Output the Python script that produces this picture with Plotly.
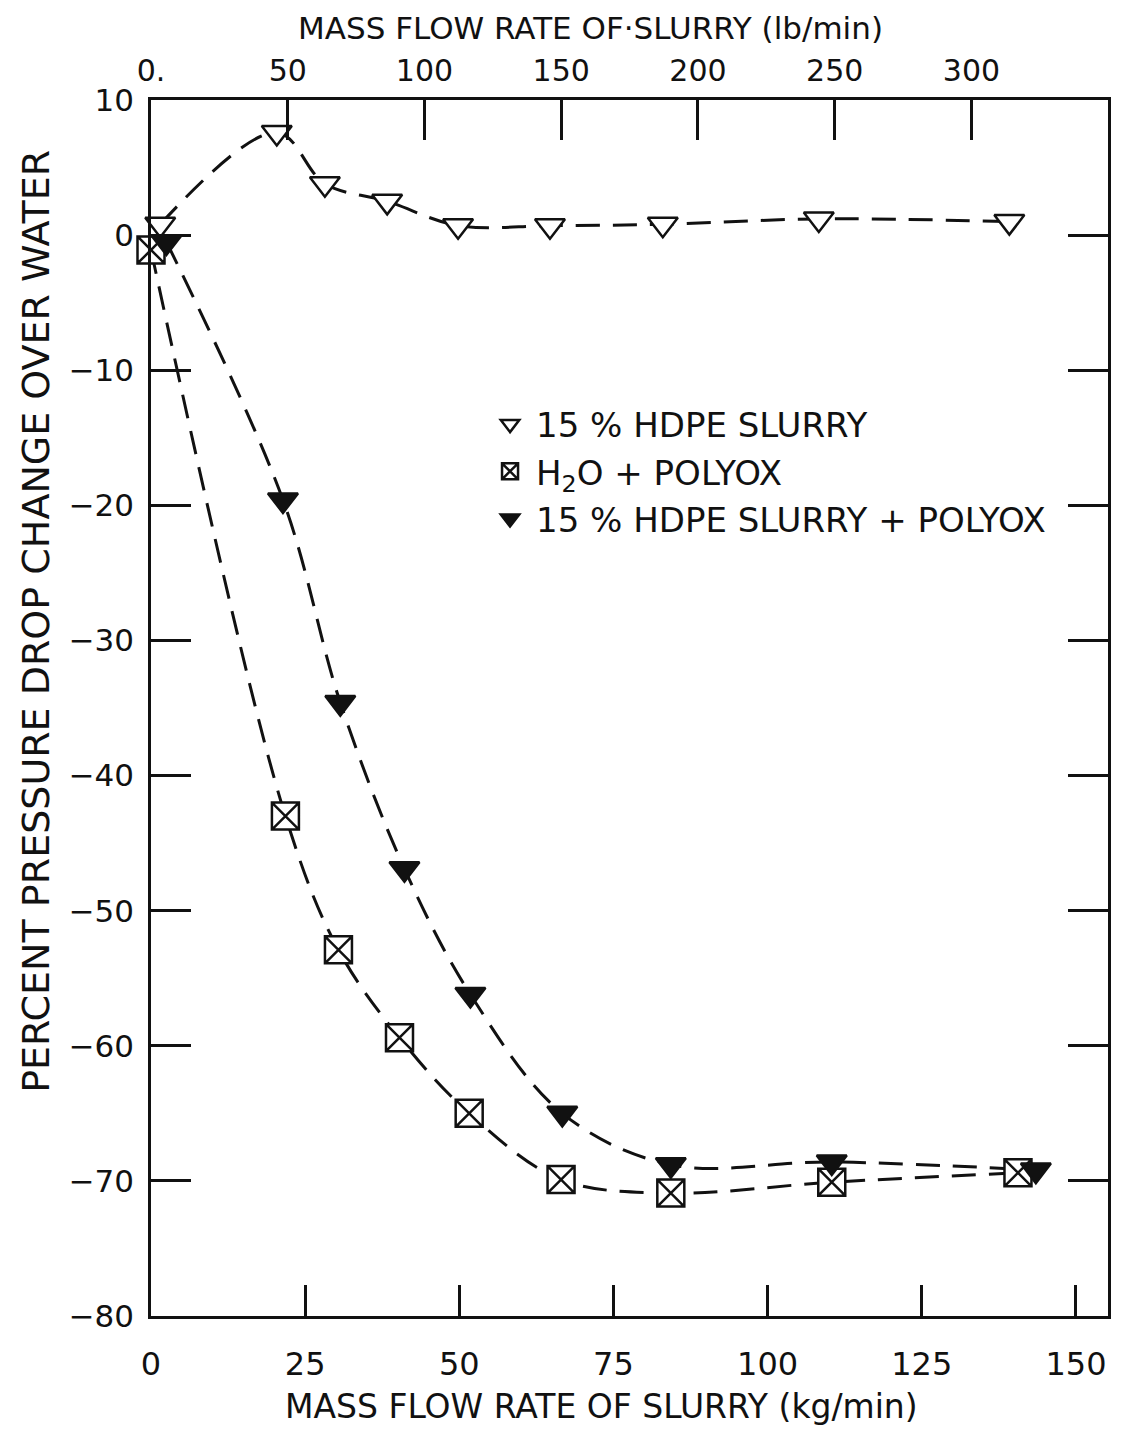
import plotly.graph_objects as go

# ---- data (mass flow rate in kg/min, percent pressure drop change over water) ----
hdpe_x = [1.5, 20.4, 28.2, 38.3, 49.8, 64.7, 83.0, 108.3, 139.2]
hdpe_y = [0.8, 7.6, 3.8, 2.5, 0.7, 0.7, 0.8, 1.2, 1.0]

h2o_polyox_x = [0.0, 21.8, 30.4, 40.3, 51.6, 66.5, 84.3, 110.4, 140.6]
h2o_polyox_y = [-1.1, -43.0, -52.9, -59.4, -65.0, -69.9, -70.9, -70.1, -69.4]

hdpe_polyox_x = [2.5, 21.4, 30.7, 41.1, 51.8, 66.7, 84.3, 110.4, 143.5]
hdpe_polyox_y = [-0.5, -19.6, -34.6, -46.9, -56.2, -65.0, -68.8, -68.6, -69.2]

names = ["15 % HDPE SLURRY", "H<sub>2</sub>O + POLYOX", "15 % HDPE SLURRY + POLYOX"]

kg_ticks = [0, 25, 50, 75, 100, 125, 150]
lb_ticks = [0, 50, 100, 150, 200, 250, 300]
lb_ticktext = ["0.", "50", "100", "150", "200", "250", "300"]
y_ticks = [10, 0, -10, -20, -30, -40, -50, -60, -70, -80]

KG_PER_LB_AXIS = 0.4435  # scale used by the drawn top axis
X_RANGE = [0, 155.2]
Y_RANGE = [-80, 10]

FONT = "DejaVu Sans"
INK = "#111111"

fig = go.Figure()

series = [
    (hdpe_x, hdpe_y, "triangle-down", 26, "white", names[0]),
    (h2o_polyox_x, h2o_polyox_y, "square-x", 27, "white", names[1]),
    (hdpe_polyox_x, hdpe_polyox_y, "triangle-down", 26, INK, names[2]),
]

for xs, ys, sym, sz, fill, nm in series:
    fig.add_trace(go.Scatter(
        x=xs, y=ys, mode="lines",
        line=dict(color=INK, width=3, dash="24px,13px", shape="spline", smoothing=1.0),
        showlegend=False, hoverinfo="skip", cliponaxis=False,
    ))

for xs, ys, sym, sz, fill, nm in series:
    fig.add_trace(go.Scatter(
        x=xs, y=ys, mode="markers", name=nm,
        marker=dict(symbol=sym, size=sz, color=fill, line=dict(color=INK, width=2.5)),
        cliponaxis=False,
    ))

# invisible trace so the top (lb/min) axis is drawn
fig.add_trace(go.Scatter(x=[lb_ticks[0]], y=[Y_RANGE[0]], xaxis="x2", mode="markers",
                         marker=dict(opacity=0), showlegend=False, hoverinfo="skip"))

fig.update_layout(
    width=1115, height=1421,
    margin=dict(l=143, r=13, t=92, b=113),
    paper_bgcolor="white", plot_bgcolor="white",
    font=dict(family=FONT, color=INK, size=30),
    xaxis=dict(
        range=X_RANGE, tickvals=kg_ticks, ticks="inside", ticklen=31, tickwidth=2.5,
        tickcolor=INK, showline=True, linecolor=INK, linewidth=2.5, showgrid=False,
        zeroline=False, tickfont=dict(size=32), ticklabelstandoff=18,
    ),
    xaxis2=dict(
        overlaying="x", side="top", anchor="y",
        range=[X_RANGE[0] / KG_PER_LB_AXIS, X_RANGE[1] / KG_PER_LB_AXIS],
        tickvals=lb_ticks, ticktext=lb_ticktext, ticks="inside", ticklen=40, tickwidth=2.5,
        tickcolor=INK, showline=True, linecolor=INK, linewidth=2.5, showgrid=False,
        zeroline=False, tickfont=dict(size=30), ticklabelstandoff=4,
    ),
    yaxis=dict(
        range=Y_RANGE, tickvals=y_ticks, ticks="inside", ticklen=40, tickwidth=2.5,
        tickcolor=INK, showline=True, linecolor=INK, linewidth=2.5, mirror="ticks",
        showgrid=False, zeroline=False, tickfont=dict(size=31), ticklabelstandoff=8,
    ),
    legend=dict(
        x=0.348, y=0.757, xanchor="left", yanchor="top",
        bgcolor="rgba(0,0,0,0)", font=dict(size=34, family=FONT),
        itemwidth=42, tracegroupgap=0,
    ),
    annotations=[
        dict(text="PERCENT PRESSURE DROP CHANGE OVER WATER", xref="paper", yref="paper",
             x=-0.121, y=0.571, textangle=-90, showarrow=False,
             font=dict(size=38), xanchor="center", yanchor="middle"),
        dict(text="MASS FLOW RATE OF SLURRY (kg/min)", xref="paper", yref="paper",
             x=0.471, y=-0.0745, showarrow=False, font=dict(size=33),
             xanchor="center", yanchor="middle"),
        dict(text="MASS FLOW RATE OF·SLURRY (lb/min)", xref="paper", yref="paper",
             x=0.459, y=1.059, showarrow=False, font=dict(size=31),
             xanchor="center", yanchor="middle"),
    ],
)

fig.write_html("out.html")
